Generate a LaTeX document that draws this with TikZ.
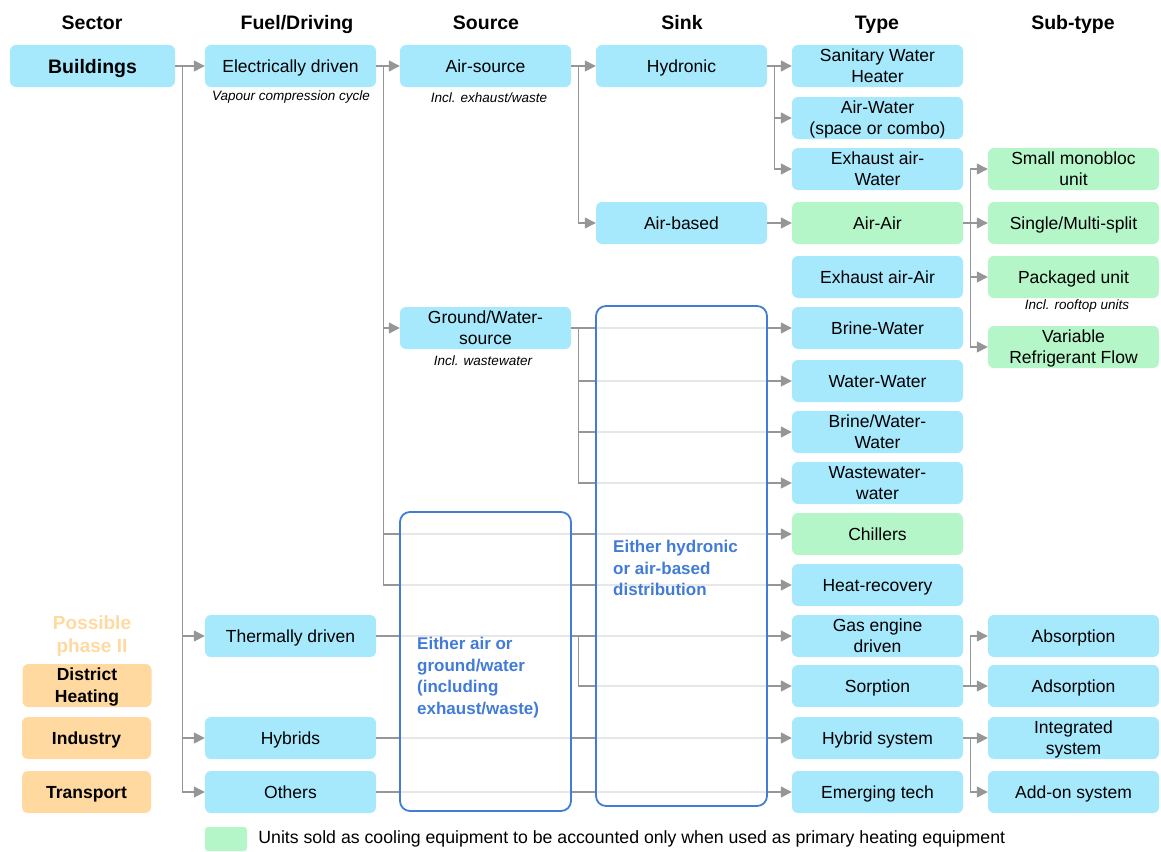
\documentclass[tikz,border=0pt]{standalone}
\usepackage{fontspec}
\setmainfont{Liberation Sans}
\usetikzlibrary{
    arrows.meta,
    positioning
}
\definecolor{hpcyan}{RGB}{166,232,252}
\definecolor{hpgreen}{RGB}{180,246,200}
\definecolor{hporange}{RGB}{255,217,160}
\definecolor{hpblue}{RGB}{66,124,214}
\definecolor{hpgray}{RGB}{150,150,150}
\tikzset {
    box/.style = {
        rounded corners = 6pt,
        minimum width = 171pt,
        minimum height = 42pt,
        inner sep = 1pt,
        text depth = 0pt,
        align = center,
        font = \fontsize{17.5}{21}\selectfont
    },
    cyan box/.style = {box, fill = hpcyan},
    green box/.style = {box, fill = hpgreen},
    orange box/.style = {
        box, fill = hporange, minimum width = 129pt,
        font = \fontsize{17.5}{22}\selectfont\bfseries
    },
    head/.style = {anchor = base, font = \fontsize{19.5}{22}\selectfont\bfseries},
    note/.style = {font = \fontsize{13.5}{16}\selectfont\itshape},
    link/.style = {
        draw = hpgray, line width = 1.3pt,
        -{Triangle[length = 11pt, width = 11pt]}
    },
    group/.style = {
        draw = hpblue, line width = 1.8pt, rounded corners = 10pt,
        fill = white, fill opacity = 0.78
    },
    group text/.style = {
        text = hpblue, align = left, anchor = north west, inner sep = 0pt,
        font = \fontsize{17}{21.5}\selectfont\bfseries
    }
}
\begin{document}
\begin{tikzpicture}[x = 1pt, y = -1pt]
    \useasboundingbox (0, 0) rectangle (1161, 851);
    % headings
    \node (hsec) [head] at (92, 30) {Sector};
    \node (hfuel) [head] at (297, 30) {Fuel/Driving};
    \node (hsrc) [head] at (486, 30) {Source};
    \node (hsink) [head] at (682, 30) {Sink};
    \node (htype) [head] at (877, 30) {Type};
    \node (hsub) [head] at (1073, 30) {Sub-type};
    % sector
    \node (bld) [cyan box, minimum width = 165pt,
        font = \fontsize{19.5}{22}\selectfont\bfseries] at (92.5, 66) {Buildings};
    \node (ph) [text = hporange, align = center,
        font = \fontsize{19}{23}\selectfont\bfseries] at (92, 636) {Possible\\phase II};
    \node (dh) [orange box, minimum height = 43pt] at (87, 685.5) {District\\Heating};
    \node (ind) [orange box] at (86.5, 738) {Industry};
    \node (trn) [orange box] at (86.5, 792) {Transport};
    % fuel / driving
    \node (eld) [cyan box] at (290.5, 66) {Electrically driven};
    \node (thd) [cyan box] at (290.5, 636) {Thermally driven};
    \node (hyb) [cyan box] at (290.5, 738) {Hybrids};
    \node (oth) [cyan box] at (290.5, 792) {Others};
    % source
    \node (air) [cyan box] at (485.5, 66) {Air-source};
    \node (gnd) [cyan box] at (485.5, 328) {Ground/Water-\\source};
    % sink
    \node (hyd) [cyan box] at (681.5, 66) {Hydronic};
    \node (abs) [cyan box] at (681.5, 223) {Air-based};
    % type
    \node (swh) [cyan box] at (877.5, 66) {Sanitary Water\\Heater};
    \node (awt) [cyan box] at (877.5, 118) {Air-Water\\(space or combo)};
    \node (eaw) [cyan box] at (877.5, 169) {Exhaust air-\\Water};
    \node (aair) [green box] at (877.5, 223) {Air-Air};
    \node (eaa) [cyan box] at (877.5, 277) {Exhaust air-Air};
    \node (bw) [cyan box] at (877.5, 328) {Brine-Water};
    \node (ww) [cyan box] at (877.5, 381) {Water-Water};
    \node (bww) [cyan box] at (877.5, 432) {Brine/Water-\\Water};
    \node (wsw) [cyan box] at (877.5, 483) {Wastewater-\\water};
    \node (chl) [green box] at (877.5, 534) {Chillers};
    \node (hrc) [cyan box] at (877.5, 585) {Heat-recovery};
    \node (gas) [cyan box] at (877.5, 636) {Gas engine\\driven};
    \node (srp) [cyan box] at (877.5, 686) {Sorption};
    \node (hys) [cyan box] at (877.5, 738) {Hybrid system};
    \node (emt) [cyan box] at (877.5, 792) {Emerging tech};
    % sub-type
    \node (smu) [green box] at (1073.5, 169) {Small monobloc\\unit};
    \node (sms) [green box] at (1073.5, 223) {Single/Multi-split};
    \node (pku) [green box] at (1073.5, 277) {Packaged unit};
    \node (vrf) [green box] at (1073.5, 347) {Variable\\Refrigerant Flow};
    \node (abp) [cyan box] at (1073.5, 636) {Absorption};
    \node (adp) [cyan box] at (1073.5, 686) {Adsorption};
    \node (ins) [cyan box] at (1073.5, 738) {Integrated\\system};
    \node (aos) [cyan box] at (1073.5, 792) {Add-on system};
    % notes
    \node (n1) [note] at (291, 97) {Vapour compression cycle};
    \node (n2) [note] at (489, 98) {Incl. exhaust/waste};
    \node (n3) [note] at (483, 361) {Incl. wastewater};
    \node (n4) [note] at (1077, 306) {Incl. rooftop units};
    % connectors
    \coordinate (j1) at ([xshift = 7pt] bld.east);
    \draw [link] (bld) -- (eld);
    \draw [link] (j1) |- (thd.west);
    \draw [link] (j1) |- (hyb.west);
    \draw [link] (j1) |- (oth.west);
    \coordinate (j2) at ([xshift = 7pt] eld.east);
    \draw [link] (eld) -- (air);
    \draw [link] (j2) |- (gnd.west);
    \draw [link] (j2) |- (chl.west);
    \draw [link] (j2) |- (hrc.west);
    \coordinate (j3) at ([xshift = 7pt] air.east);
    \draw [link] (air) -- (hyd);
    \draw [link] (j3) |- (abs.west);
    \coordinate (j4) at ([xshift = 7pt] hyd.east);
    \draw [link] (hyd) -- (swh);
    \draw [link] (j4) |- (awt.west);
    \draw [link] (j4) |- (eaw.west);
    \draw [link] (abs) -- (aair);
    \coordinate (j5) at ([xshift = 7pt] aair.east);
    \draw [link] (aair) -- (sms);
    \draw [link] (j5) |- (smu.west);
    \draw [link] (j5) |- (pku.west);
    \draw [link] (j5) |- (vrf.west);
    \coordinate (j6) at ([xshift = 7pt] gnd.east);
    \draw [link] (gnd) -- (bw);
    \draw [link] (j6) |- (ww.west);
    \draw [link] (j6) |- (bww.west);
    \draw [link] (j6) |- (wsw.west);
    \coordinate (j7) at (j6 |- thd.east);
    \draw [link] (thd) -- (gas);
    \draw [link] (j7) |- (srp.west);
    \coordinate (j8) at ([xshift = 7pt] srp.east);
    \draw [link] (srp) -- (adp);
    \draw [link] (j8) |- (abp.west);
    \draw [link] (hyb) -- (hys);
    \coordinate (j9) at ([xshift = 7pt] hys.east);
    \draw [link] (hys) -- (ins);
    \draw [link] (j9) |- (aos.west);
    \draw [link] (oth) -- (emt);
    % grouping frames
    \draw [group] (400, 512) rectangle (571, 811);
    \draw [group] (596, 306) rectangle (767, 806);
    \node (g1) [group text] at (417, 637) {Either air or\\ground/water\\(including\\exhaust/waste)};
    \node (g2) [group text] at (613, 540) {Either hydronic\\or air-based\\distribution};
    % legend
    \node (key) [fill = hpgreen, rounded corners = 3pt, minimum width = 42pt,
        minimum height = 24pt, inner sep = 0pt] at (226, 839) {};
    \node (keytext) [right = 11pt of key, inner sep = 0pt,
        font = \fontsize{17.7}{20}\selectfont]
        {Units sold as cooling equipment to be accounted only when used as primary heating equipment};
\end{tikzpicture}
\end{document}
